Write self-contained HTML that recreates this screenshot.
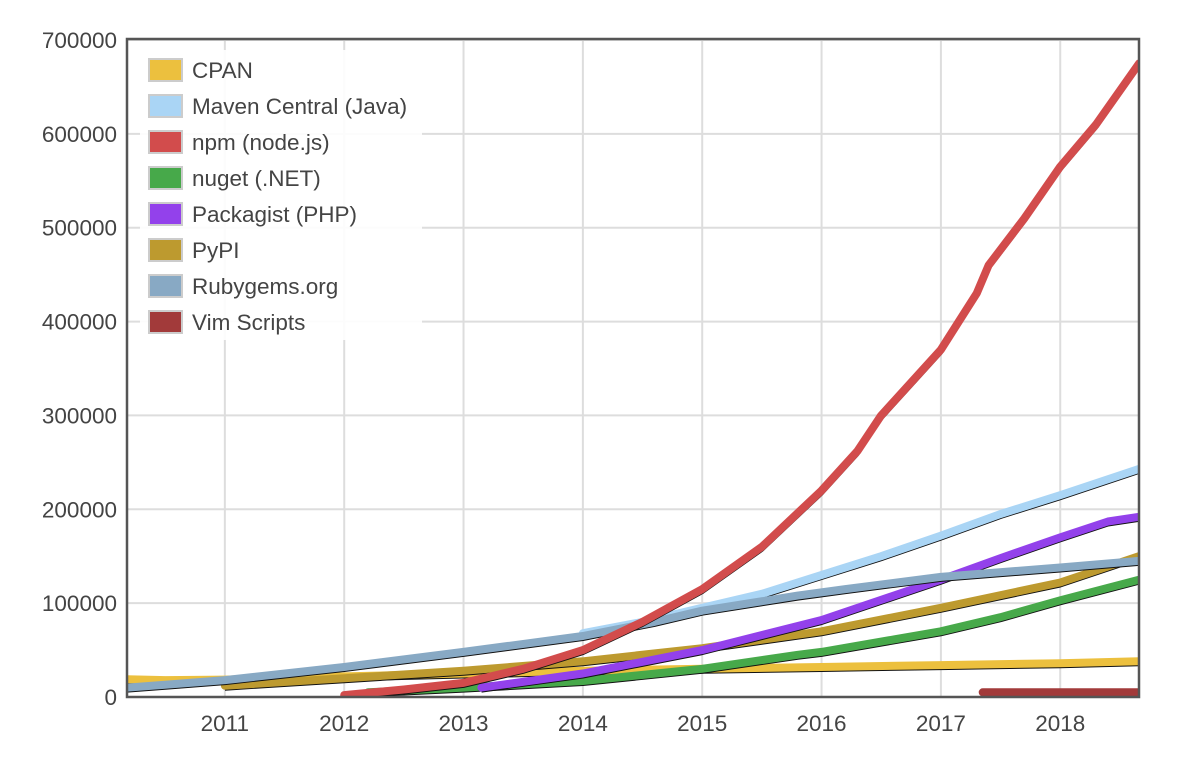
<!DOCTYPE html>
<html><head><meta charset="utf-8"><style>
body{margin:0;background:#fff;font-family:"Liberation Sans",Arial,sans-serif}
svg text{font-family:"Liberation Sans",Arial,sans-serif;fill:#444}
</style></head><body>
<svg id="chart" width="1187" height="757" viewBox="0 0 1187 757" xmlns="http://www.w3.org/2000/svg">
<defs><clipPath id="clip"><rect x="127" y="38" width="1012" height="659"/></clipPath></defs>
<g id="grid"></g><g id="axes"></g><g id="lines" clip-path="url(#clip)"></g>
<rect x="127" y="39" width="1012" height="658" fill="none" stroke="#555" stroke-width="2.5"/>
<g id="legend"></g>
</svg>
<script>
const seriesNames=["CPAN","Maven Central (Java)","npm (node.js)","nuget (.NET)","Packagist (PHP)","PyPI","Rubygems.org","Vim Scripts"];
const seriesColors=["#ecc03e","#aad5f5","#d24c4c","#47a94a","#9341eb","#bd9a2f","#88a9c4","#a23a3a"];
const cpanX=[2010.18,2010.5,2011,2012,2013,2014,2015,2016,2017,2018,2018.66];
const cpanY=[19000,18000,18500,22000,25000,28000,30000,32000,34000,36000,38000];
const mavenX=[2014.0,2014.5,2015,2015.5,2016,2016.5,2017,2017.5,2018,2018.66];
const mavenY=[68000,80000,95000,110000,130000,150000,172000,195000,215000,243000];
const npmX=[2012.0,2012.5,2013,2013.5,2014,2014.5,2015,2015.5,2016,2016.3,2016.5,2017,2017.3,2017.4,2017.7,2018,2018.3,2018.66];
const npmY=[2000,8000,15000,30000,50000,80000,115000,160000,220000,262000,300000,370000,430000,460000,510000,565000,610000,675000];
const nugetX=[2012.2,2013,2014,2015,2015.8,2016,2017,2017.5,2018,2018.66];
const nugetY=[5000,10000,17000,30000,45000,48000,70000,85000,103000,125000];
const packagistX=[2013.15,2014,2015,2016,2017,2017.5,2018,2018.4,2018.66];
const packagistY=[10000,25000,50000,82000,125000,148000,170000,187000,192000];
const pypiX=[2011,2012,2013,2014,2015,2016,2017,2018,2018.66];
const pypiY=[12000,20000,28000,38000,52000,70000,95000,122000,150000];
const rubyX=[2010.18,2010.5,2011,2012,2013,2014,2014.6,2015,2015.8,2016.2,2017,2018,2018.66];
const rubyY=[10000,13000,18000,32000,48000,65000,80000,92000,108000,115000,128000,138000,145000];
const vimX=[2017.35,2018.66];
const vimY=[5000,5000];
const yTicks=[0,100000,200000,300000,400000,500000,600000,700000];
const xTicks=[2011,2012,2013,2014,2015,2016,2017,2018];

const NS="http://www.w3.org/2000/svg";
const X0=127,X1=1139,Y0=697,Y1=40,XMIN=2010.18,XMAX=2018.66,YMAX=700000;
const sx=v=>X0+(v-XMIN)/(XMAX-XMIN)*(X1-X0);
const sy=v=>Y0-(v/YMAX)*(Y0-Y1);
function mk(tag,attrs,parent){const e=document.createElementNS(NS,tag);for(const k in attrs)e.setAttribute(k,attrs[k]);parent.appendChild(e);return e;}
const grid=document.getElementById('grid'),axes=document.getElementById('axes'),lines=document.getElementById('lines'),legend=document.getElementById('legend');
yTicks.forEach(t=>{
  const l=mk('line',{x1:X0,x2:X1,y1:sy(t),y2:sy(t),stroke:'#ddd','stroke-width':2},grid);
  
  
  const tx=mk('text',{x:117,y:sy(t)+8,'text-anchor':'end','font-size':22.5},axes);
  tx.textContent=t;
  
  
});
xTicks.forEach(t=>{
  const l=mk('line',{x1:sx(t),x2:sx(t),y1:Y1,y2:Y0,stroke:'#ddd','stroke-width':2},grid);
  
  
  const tx=mk('text',{x:sx(t),y:731,'text-anchor':'middle','font-size':22.5},axes);
  tx.textContent=t;
  
  
});
const allX=[cpanX,mavenX,npmX,nugetX,packagistX,pypiX,rubyX,vimX];
const allY=[cpanY,mavenY,npmY,nugetY,packagistY,pypiY,rubyY,vimY];
const order=[7,0,3,5,4,1,6,2];
order.forEach(i=>{
  const d=allX[i].map((x,j)=>(j?'L':'M')+sx(x).toFixed(1)+','+sy(allY[i][j]).toFixed(1)).join(' ');
  const sh=mk('path',{d:d,fill:'none',stroke:'#111','stroke-width':4,transform:'translate(0,3)','stroke-linejoin':'round'},lines);
  
  
  const p=mk('path',{d:d,fill:'none',stroke:seriesColors[i],'stroke-width':8,'stroke-linejoin':'round','stroke-linecap':'round'},lines);
  
  
});
const lb=mk('rect',{x:140,y:50,width:282,height:290,fill:'#fff','fill-opacity':0.9},legend);


seriesNames.forEach((n,i)=>{
  const y=70+i*36;
  const g=mk('g',{},legend);
  
  
  mk('rect',{x:149,y:y-11,width:33,height:22,fill:seriesColors[i],stroke:'#ccc','stroke-width':2},g);
  const t=mk('text',{x:192,y:y+8,'font-size':22.5},g);
  t.textContent=n;
});
</script>
</body></html>
